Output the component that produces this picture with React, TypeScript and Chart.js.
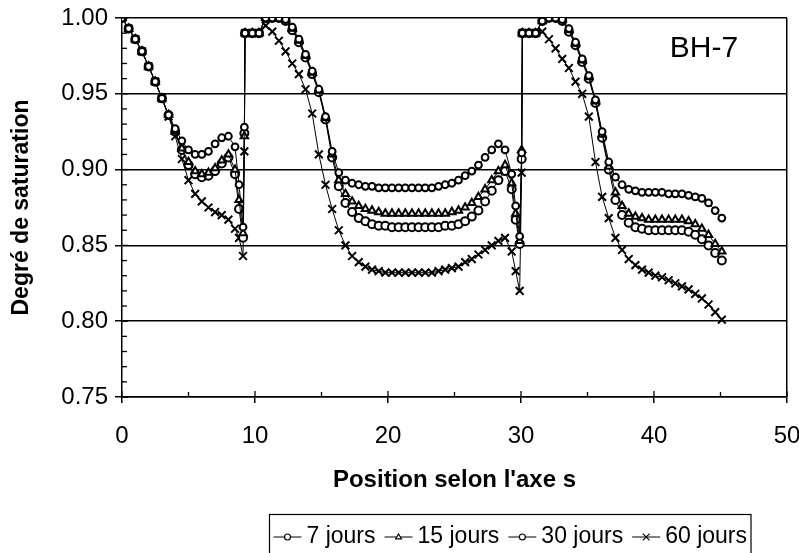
import React, { useEffect, useRef } from 'react';
import { Chart, registerables } from 'chart.js';

Chart.register(...registerables);

// Position along axis s (shared by all series)
const positionS: number[] = [
  0, 0.5, 1, 1.5, 2, 2.5, 3, 3.5, 4, 4.5, 5, 5.5, 6, 6.5, 7, 7.5, 8, 8.5, 8.8, 9.1, 9.2, 9.25,
  9.8, 10.3, 10.8, 11.3, 11.8, 12.3, 12.8, 13.3, 13.8, 14.3, 14.8, 15.3, 15.8, 16.3, 16.8, 17.3, 17.8, 18.3, 18.8, 19.3,
  19.8, 20.3, 20.8, 21.3, 21.8, 22.3, 22.8, 23.3, 23.8, 24.3, 24.8, 25.3, 25.8, 26.3, 26.8, 27.3, 27.8, 28.3, 28.8, 29.3,
  29.6, 29.9, 30.05, 30.1,
  30.6, 31.1, 31.6, 32.1, 32.6, 33.1, 33.6, 34.1, 34.6, 35.1, 35.6, 36.1, 36.6, 37.1, 37.6, 38.1, 38.6, 39.1, 39.6, 40.1,
  40.6, 41.1, 41.6, 42.1, 42.6, 43.1, 43.6, 44.1, 44.6, 45.1,
];

const jours7: number[] = [
  1.000, 0.993, 0.986, 0.978, 0.968, 0.958, 0.947, 0.936, 0.927, 0.919, 0.913, 0.910, 0.910, 0.912, 0.917, 0.921, 0.922, 0.915, 0.890, 0.862, 0.928, 0.990,
  0.990, 0.990, 1.000, 1.000, 1.000, 0.999, 0.994, 0.986, 0.976, 0.965, 0.953, 0.935, 0.912, 0.898, 0.893, 0.891, 0.890, 0.889, 0.889, 0.888,
  0.888, 0.888, 0.888, 0.888, 0.888, 0.888, 0.888, 0.888, 0.889, 0.890, 0.891, 0.893, 0.896, 0.899, 0.903, 0.908, 0.913, 0.917, 0.913, 0.897,
  0.876, 0.856, 0.911, 0.990,
  0.990, 0.990, 0.998, 1.000, 1.000, 0.999, 0.993, 0.984, 0.973, 0.962, 0.946, 0.925, 0.905, 0.895, 0.890, 0.887, 0.886, 0.885, 0.885, 0.885,
  0.885, 0.884, 0.884, 0.884, 0.883, 0.882, 0.881, 0.878, 0.873, 0.868,
];

const jours15: number[] = [
  1.000, 0.993, 0.986, 0.978, 0.968, 0.958, 0.947, 0.936, 0.925, 0.914, 0.905, 0.899, 0.897, 0.898, 0.901, 0.906, 0.910, 0.900, 0.880, 0.858, 0.922, 0.990,
  0.990, 0.990, 1.000, 1.000, 1.000, 0.999, 0.993, 0.985, 0.975, 0.964, 0.952, 0.934, 0.910, 0.893, 0.884, 0.879, 0.876, 0.874, 0.873, 0.872,
  0.871, 0.871, 0.871, 0.871, 0.871, 0.871, 0.871, 0.871, 0.871, 0.871, 0.872, 0.873, 0.875, 0.878, 0.882, 0.887, 0.893, 0.899, 0.903, 0.891,
  0.871, 0.853, 0.913, 0.990,
  0.990, 0.990, 0.998, 1.000, 1.000, 0.999, 0.992, 0.983, 0.972, 0.961, 0.945, 0.923, 0.902, 0.885, 0.876, 0.871, 0.869, 0.868, 0.867, 0.867,
  0.867, 0.867, 0.867, 0.867, 0.866, 0.864, 0.861, 0.857, 0.851, 0.846,
];

const jours30: number[] = [
  1.000, 0.993, 0.986, 0.978, 0.968, 0.958, 0.947, 0.936, 0.925, 0.913, 0.903, 0.897, 0.895, 0.896, 0.899, 0.904, 0.908, 0.897, 0.874, 0.855, 0.924, 0.990,
  0.990, 0.990, 1.000, 1.000, 1.000, 0.998, 0.992, 0.984, 0.974, 0.963, 0.951, 0.933, 0.908, 0.889, 0.878, 0.872, 0.868, 0.866, 0.864, 0.863,
  0.863, 0.862, 0.862, 0.862, 0.862, 0.862, 0.862, 0.862, 0.862, 0.863, 0.863, 0.864, 0.866, 0.869, 0.873, 0.879, 0.886, 0.893, 0.899, 0.887,
  0.867, 0.851, 0.907, 0.990,
  0.990, 0.990, 0.998, 1.000, 1.000, 0.998, 0.991, 0.982, 0.971, 0.960, 0.944, 0.921, 0.900, 0.880, 0.870, 0.865, 0.862, 0.861, 0.860, 0.860,
  0.860, 0.860, 0.860, 0.860, 0.859, 0.857, 0.854, 0.850, 0.845, 0.840,
];

const jours60: number[] = [
  1.000, 0.993, 0.986, 0.978, 0.968, 0.958, 0.947, 0.935, 0.922, 0.907, 0.893, 0.884, 0.879, 0.875, 0.872, 0.870, 0.867, 0.861, 0.855, 0.843, 0.912, 0.990,
  0.990, 0.990, 0.995, 0.991, 0.985, 0.978, 0.970, 0.963, 0.953, 0.937, 0.910, 0.890, 0.874, 0.860, 0.850, 0.843, 0.839, 0.836, 0.834, 0.833,
  0.832, 0.832, 0.832, 0.832, 0.832, 0.832, 0.832, 0.832, 0.833, 0.834, 0.835, 0.836, 0.839, 0.841, 0.844, 0.847, 0.850, 0.853, 0.855, 0.846,
  0.833, 0.820, 0.898, 0.990,
  0.990, 0.990, 0.991, 0.986, 0.980, 0.973, 0.967, 0.958, 0.950, 0.935, 0.905, 0.882, 0.868, 0.855, 0.847, 0.841, 0.837, 0.834, 0.832, 0.830,
  0.829, 0.827, 0.825, 0.823, 0.821, 0.818, 0.815, 0.811, 0.806, 0.801,
];

const seriesLabels: string[] = ['7 jours', '15 jours', '30 jours', '60 jours'];
const yTitle = 'Degré de saturation';
const xTitle = "Position selon l'axe s";
const panelLabel = 'BH-7';

const FONT = "'Liberation Sans', Arial, Helvetica, sans-serif";

function drawMarker(ctx: CanvasRenderingContext2D, style: string, x: number, y: number, r: number, bw: number) {
  ctx.save();
  ctx.strokeStyle = '#000';
  ctx.fillStyle = '#fff';
  ctx.lineWidth = bw;
  ctx.beginPath();
  if (style === 'circle') {
    ctx.arc(x, y, r, 0, Math.PI * 2);
    ctx.fill();
    ctx.stroke();
  } else if (style === 'triangle') {
    ctx.moveTo(x, y - r);
    ctx.lineTo(x + r * 0.95, y + r * 0.6);
    ctx.lineTo(x - r * 0.95, y + r * 0.6);
    ctx.closePath();
    ctx.fill();
    ctx.stroke();
  } else {
    const d = r * 0.75;
    ctx.moveTo(x - d, y - d);
    ctx.lineTo(x + d, y + d);
    ctx.moveTo(x + d, y - d);
    ctx.lineTo(x - d, y + d);
    ctx.stroke();
  }
  ctx.restore();
}

const decorPlugin = {
  id: 'decor',
  afterDraw(chart: any) {
    const { ctx, chartArea: ca, scales } = chart;
    const xs = scales.x;
    const ys = scales.y;
    ctx.save();
    ctx.strokeStyle = '#000';
    ctx.lineWidth = 1.3;
    // inner ticks on y axis
    for (let k = 75; k <= 100; k++) {
      const py = ys.getPixelForValue(k / 100);
      const len = k % 5 === 0 ? 6 : 5;
      ctx.beginPath();
      ctx.moveTo(ca.left, py);
      ctx.lineTo(ca.left + len, py);
      ctx.stroke();
    }
    // inner ticks on x axis
    for (let k = 0; k <= 50; k += 5) {
      const px = xs.getPixelForValue(k);
      const len = k % 10 === 0 ? 6 : 5;
      ctx.beginPath();
      ctx.moveTo(px, ca.bottom);
      ctx.lineTo(px, ca.bottom - len);
      ctx.stroke();
    }
    // panel label
    ctx.fillStyle = '#000';
    ctx.font = `30px ${FONT}`;
    ctx.textAlign = 'center';
    ctx.textBaseline = 'middle';
    ctx.fillText(panelLabel, ca.right - 83, ca.top + 31);

    // custom legend: line + marker + label, inside a frame
    const datasets = chart.data.datasets;
    ctx.font = `23px ${FONT}`;
    const lineLen = 28;
    const gap = 5;
    const spacing = 9;
    const padX = 4;
    const widths = datasets.map((d: any) => lineLen + gap + ctx.measureText(d.label).width);
    const total = widths.reduce((a: number, b: number) => a + b, 0) + spacing * (datasets.length - 1) + padX * 2;
    const cx = 510;
    const boxLeft = Math.round(cx - total / 2) + 0.5;
    const boxTop = 514.5;
    ctx.lineWidth = 1.2;
    ctx.strokeRect(boxLeft, boxTop, total, 60);
    const cy = 537;
    let x = boxLeft + padX;
    datasets.forEach((d: any, i: number) => {
      ctx.beginPath();
      ctx.lineWidth = 1;
      ctx.moveTo(x, cy);
      ctx.lineTo(x + lineLen, cy);
      ctx.stroke();
      drawMarker(ctx, d.pointStyle, x + lineLen / 2, cy, d.pointStyle === 'crossRot' ? 4.5 : 3, 1.2);
      ctx.fillStyle = '#000';
      ctx.textAlign = 'left';
      ctx.textBaseline = 'middle';
      ctx.fillText(d.label, x + lineLen + gap, cy);
      x += widths[i] + spacing;
    });
    ctx.restore();
  },
};

export default function App() {
  const canvasRef = useRef<HTMLCanvasElement>(null);

  useEffect(() => {
    const canvas = canvasRef.current;
    if (!canvas) return;
    const styles: [string, number, number][] = [
      ['circle', 3.4, 2],
      ['triangle', 4.2, 2],
      ['circle', 4, 2],
      ['crossRot', 5.5, 2],
    ];
    const seriesValues = [jours7, jours15, jours30, jours60];
    const datasets = seriesValues.map((vals, i) => ({
      label: seriesLabels[i],
      data: positionS.map((x, j) => ({ x, y: vals[j] })),
      showLine: true,
      borderColor: '#000',
      borderWidth: 1,
      pointStyle: styles[i][0],
      pointRadius: styles[i][1],
      pointBorderColor: '#000',
      pointBackgroundColor: '#fff',
      pointBorderWidth: styles[i][2],
      fill: false,
      tension: 0,
    }));

    const chart = new Chart(canvas, {
      type: 'scatter',
      data: { datasets: datasets as any },
      options: {
        responsive: false,
        animation: false,
        devicePixelRatio: 1,
        layout: { padding: { top: 18, right: 12, left: 0, bottom: 58 } },
        plugins: {
          legend: { display: false },
          tooltip: { enabled: false },
        },
        scales: {
          x: {
            type: 'linear',
            min: 0,
            max: 50,
            ticks: {
              stepSize: 10,
              color: '#000',
              font: { family: FONT, size: 24 },
              padding: 19,
              maxRotation: 0,
            },
            grid: {
              color: (ctx: any) => (ctx.tick && ctx.tick.value === 50 ? '#000' : 'rgba(0,0,0,0)'),
              tickColor: '#000',
              lineWidth: 1.5,
              tickLength: 6,
            },
            border: { color: '#000', width: 1.5 },
            title: {
              display: true,
              text: xTitle,
              color: '#000',
              font: { family: FONT, size: 24, weight: 'bold' },
              padding: { top: 0, bottom: 0 },
            },
            afterFit: (scale: any) => {
              scale.height = 98;
              scale.paddingLeft = 0;
              scale.paddingRight = 0;
            },
          },
          y: {
            min: 0.75,
            max: 1.0,
            ticks: {
              stepSize: 0.05,
              color: '#000',
              font: { family: FONT, size: 24 },
              padding: 7,
              callback: (v: any) => Number(v).toFixed(2),
            },
            grid: {
              color: '#000',
              lineWidth: 1.5,
              tickLength: 7,
            },
            border: { color: '#000', width: 1.5 },
            title: {
              display: true,
              text: yTitle,
              color: '#000',
              font: { family: FONT, size: 23, weight: 'bold' },
              padding: { top: 8, bottom: 0 },
            },
            afterFit: (scale: any) => {
              scale.width = 122;
              scale.paddingTop = 0;
              scale.paddingBottom = 0;
            },
          },
        },
      } as any,
      plugins: [decorPlugin],
    });
    return () => chart.destroy();
  }, []);

  return (
    <div style={{ position: 'absolute', left: 0, top: 0, width: 799, height: 553, background: '#fff' }}>
      <canvas ref={canvasRef} width={799} height={553} style={{ display: 'block', width: 799, height: 553 }} />
    </div>
  );
}
